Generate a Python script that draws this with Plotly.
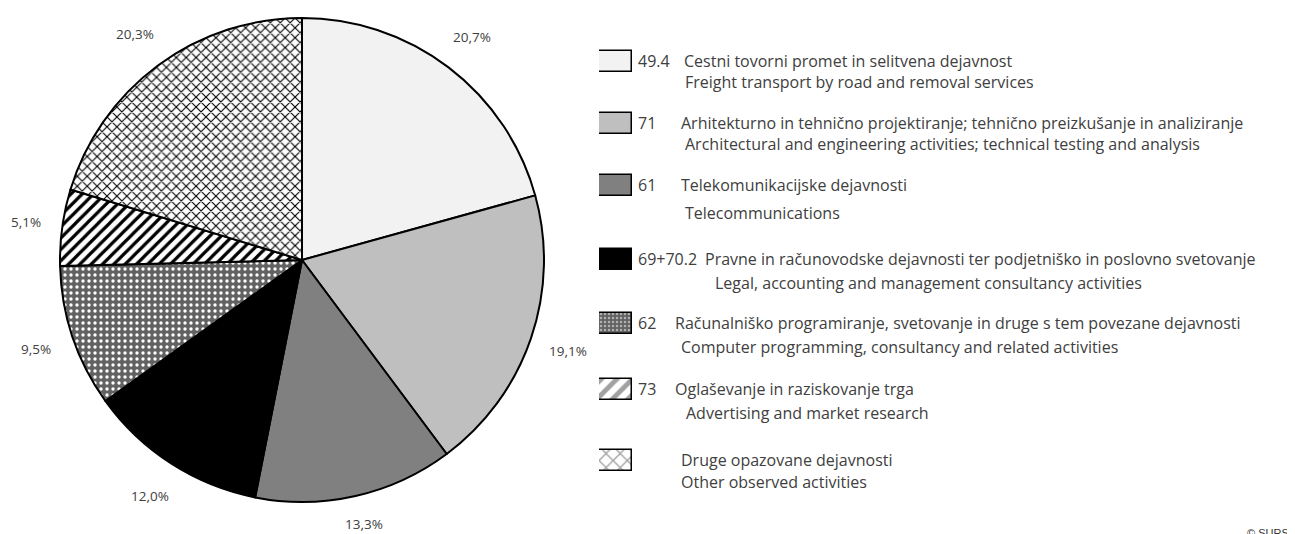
import math
import plotly.graph_objects as go

# ---- data ----
codes = ["49.4", "71", "61", "69+70.2", "62", "73", ""]
names_sl = [
    "Cestni tovorni promet in selitvena dejavnost",
    "Arhitekturno in tehnično projektiranje; tehnično preizkušanje in analiziranje",
    "Telekomunikacijske dejavnosti",
    "Pravne in računovodske dejavnosti ter podjetniško in poslovno svetovanje",
    "Računalniško programiranje, svetovanje in druge s tem povezane dejavnosti",
    "Oglaševanje in raziskovanje trga",
    "Druge opazovane dejavnosti",
]
names_en = [
    "Freight transport by road and removal services",
    "Architectural and engineering activities; technical testing and analysis",
    "Telecommunications",
    "Legal, accounting and management consultancy activities",
    "Computer programming, consultancy and related activities",
    "Advertising and market research",
    "Other observed activities",
]
shares = [20.7, 19.1, 13.3, 12.0, 9.5, 5.1, 20.3]

# ---- styles ----
fills = ["#f2f2f2", "#bfbfbf", "#808080", "#000000", "#626262", "#ffffff", "#ffffff"]
pat_shape = ["", "", "", "", ".", "/", "x"]
pat_fg = ["#000000", "#000000", "#000000", "#000000", "#ffffff", "#000000", "#000000"]
pat_size = [8, 8, 8, 8, 6, 8, 7]
pat_sol = [0.3, 0.3, 0.3, 0.3, 0.25, 0.4, 0.3]

W, H = 1295, 534
OFF = 8  # page body margin of the html page
cx, cy, R = 302, 260, 242
FONT = "Open Sans"
TXT = "#404040"


def X(px):
    return (px - OFF) / W


def Y(py):
    return 1 - (py - OFF) / H


fig = go.Figure()
fig.add_trace(go.Pie(
    values=shares,
    labels=names_sl,
    sort=False,
    direction="clockwise",
    rotation=0,
    textinfo="none",
    hoverinfo="label+percent",
    showlegend=False,
    marker=dict(
        colors=fills,
        line=dict(color="#000000", width=2),
        pattern=dict(shape=pat_shape, fgcolor=pat_fg, bgcolor=fills,
                     size=pat_size, solidity=pat_sol),
    ),
    domain=dict(x=[X(cx - R), X(cx + R)], y=[Y(cy + R), Y(cy - R)]),
))

# percentage labels computed from the data
total = sum(shares)
cum = 0.0
rl = R * 1.16
for v in shares:
    mid = (cum + v / 2) / total
    cum += v
    th = 2 * math.pi * mid
    px = max(cx + rl * math.sin(th), OFF + 18)
    py = min(cy - rl * math.cos(th), H - 10)
    fig.add_annotation(x=X(px), y=Y(py), xref="paper", yref="paper",
                       text=f"{v:.1f}".replace(".", ",") + "%", showarrow=False,
                       xanchor="center", yanchor="middle",
                       font=dict(family=FONT, size=13.5, color=TXT))

# ---- custom legend ----
row_y1 = [61, 123, 185, 259, 323, 389, 460]
row_y2 = [82, 144, 213, 283, 347, 413, 482]
name_x1 = [682, 679, 679, 703, 673, 673, 679]
name_x2 = [683, 683, 683, 713, 679, 684, 679]
box_x0, box_x1, box_h = 599, 632, 21

fig.add_trace(go.Bar(
    y=[y - OFF for y in row_y1], x=[1] * len(row_y1), orientation="h", width=box_h,
    xaxis="x2", yaxis="y2", showlegend=False, hoverinfo="skip",
    marker=dict(color=fills, line=dict(color="#000000", width=1.5),
                pattern=dict(shape=pat_shape, fgcolor=pat_fg, bgcolor=fills,
                             size=[5, 5, 5, 5, 4, 11, 10],
                             solidity=[0.3, 0.3, 0.3, 0.3, 0.3, 0.45, 0.25])),
))

for i in range(len(codes)):
    if codes[i]:
        fig.add_annotation(x=X(636), y=Y(row_y1[i]), xref="paper", yref="paper",
                           text=codes[i], showarrow=False, xanchor="left", yanchor="middle",
                           font=dict(family=FONT, size=16, color=TXT))
    fig.add_annotation(x=X(name_x1[i]), y=Y(row_y1[i]), xref="paper", yref="paper",
                       text=names_sl[i], showarrow=False, xanchor="left", yanchor="middle",
                       font=dict(family=FONT, size=16, color=TXT))
    fig.add_annotation(x=X(name_x2[i]), y=Y(row_y2[i]), xref="paper", yref="paper",
                       text=names_en[i], showarrow=False, xanchor="left", yanchor="middle",
                       font=dict(family=FONT, size=16, color=TXT))

fig.add_annotation(x=X(1291), y=Y(525), xref="paper", yref="paper", text="© SURS",
                   showarrow=False, xanchor="right", yanchor="top",
                   font=dict(family="Liberation Sans", size=11, color="#333333"))

fig.update_layout(
    width=W, height=H,
    margin=dict(l=0, r=0, t=0, b=0),
    paper_bgcolor="#ffffff", plot_bgcolor="rgba(0,0,0,0)",
    xaxis2=dict(domain=[X(box_x0), X(box_x1)], range=[0, 1], visible=False, fixedrange=True),
    yaxis2=dict(domain=[0, 1], range=[H, 0], visible=False, fixedrange=True, anchor="x2"),
    xaxis=dict(visible=False), yaxis=dict(visible=False),
    bargap=0,
)
fig.write_html("out.html")
